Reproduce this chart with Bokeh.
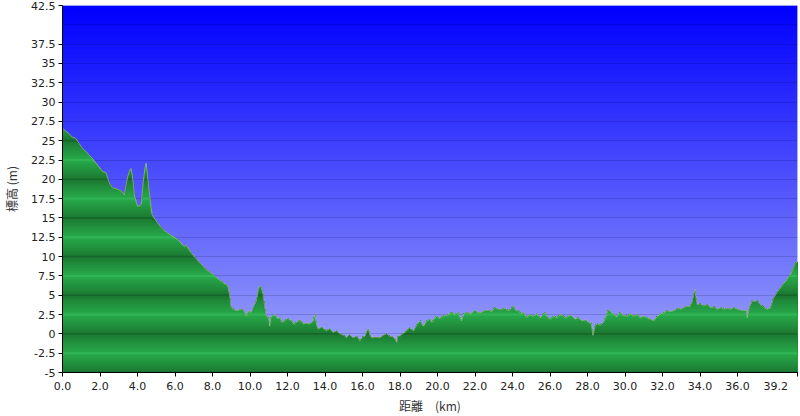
import numpy as np
from bokeh.plotting import figure
from bokeh.models import FixedTicker, PrintfTickFormatter, Range1d
from bokeh.embed import file_html
from bokeh.resources import INLINE

# ---------------- data ----------------
distance_km = [
    0.0, 0.15, 0.36, 0.5, 0.71, 0.9, 1.07, 1.25, 1.43, 1.6, 1.78, 1.95, 2.14, 2.32, 2.4, 2.5,
    2.67, 2.85, 3.03, 3.15, 3.3, 3.48, 3.6, 3.65, 3.72, 3.83, 4.01, 4.19, 4.31, 4.4, 4.46, 4.52,
    4.6, 4.78, 5.08, 5.35, 5.7, 5.9, 6.15, 6.5, 6.6, 6.86, 7.1, 7.31, 7.5, 7.66, 8.02, 8.25,
    8.47, 8.82, 8.91, 9.0, 9.27, 9.54, 9.7, 9.8, 9.9, 10.07, 10.34, 10.45, 10.52, 10.6, 10.7,
    10.84, 11.0, 11.05, 11.12, 11.32, 11.45, 11.59, 11.7, 11.85, 12.0, 12.21, 12.35, 12.48,
    12.65, 12.83, 13.0, 13.19, 13.35, 13.46, 13.55, 13.64, 13.8, 14.08, 14.25, 14.44, 14.6,
    14.8, 15.0, 15.15, 15.3, 15.5, 15.7, 15.86, 16.0, 16.13, 16.31, 16.4, 16.49, 16.7, 16.93,
    17.1, 17.29, 17.45, 17.65, 17.83, 17.9, 18.0, 18.2, 18.36, 18.5, 18.72, 18.9, 19.07, 19.25,
    19.43, 19.6, 19.7, 19.94, 20.1, 20.3, 20.5, 20.75, 20.9, 21.1, 21.28, 21.4, 21.55, 21.8,
    21.99, 22.15, 22.35, 22.5, 22.71, 22.9, 23.06, 23.25, 23.42, 23.6, 23.78, 23.9, 24.04,
    24.15, 24.31, 24.45, 24.58, 24.76, 24.9, 25.11, 25.3, 25.47, 25.6, 25.74, 25.85, 26.0,
    26.2, 26.36, 26.55, 26.72, 26.85, 26.99, 27.15, 27.34, 27.5, 27.7, 27.9, 28.05, 28.2,
    28.29, 28.41, 28.55, 28.68, 28.86, 29.0, 29.12, 29.25, 29.39, 29.55, 29.75, 29.9, 30.1,
    30.3, 30.46, 30.65, 30.82, 31.0, 31.17, 31.35, 31.53, 31.7, 31.89, 32.05, 32.24, 32.4,
    32.6, 32.8, 32.96, 33.15, 33.31, 33.45, 33.58, 33.66, 33.72, 33.78, 33.85, 34.0, 34.2,
    34.4, 34.56, 34.75, 34.92, 35.1, 35.27, 35.45, 35.63, 35.8, 35.99, 36.15, 36.34, 36.45,
    36.52, 36.6, 36.79, 36.9, 37.06, 37.2, 37.33, 37.45, 37.59, 37.77, 37.9, 38.04, 38.15,
    38.3, 38.45, 38.57, 38.7, 38.84, 38.95, 39.02, 39.1, 39.2,
]
elevation_m = [
    26.6, 26.3, 25.9, 25.5, 25.3, 24.6, 24.0, 23.6, 23.1, 22.7, 22.1, 21.6, 21.0, 20.9, 20.2, 19.5,
    18.9, 18.8, 18.6, 18.5, 18.0, 20.4, 21.2, 21.4, 20.6, 18.0, 16.5, 16.7, 19.7, 21.5, 22.1, 20.8,
    18.9, 15.4, 14.3, 13.5, 12.9, 12.6, 12.2, 11.3, 11.5, 10.5, 9.8, 9.2, 8.8, 8.3, 7.7, 7.2,
    6.8, 6.2, 5.1, 3.4, 3.0, 3.2, 2.9, 2.3, 2.9, 2.8, 4.3, 5.8, 6.2, 6.0, 5.1,
    2.5, 2.0, 1.0, 2.2, 2.5, 2.0, 2.1, 1.5, 1.7, 2.0, 1.7, 1.2, 1.5,
    1.8, 1.3, 1.4, 1.3, 1.6, 2.5, 1.2, 0.6, 0.9, 0.4, 0.7, 0.2, 0.4,
    0.0, -0.2, -0.5, -0.1, -0.5, -0.3, -0.9, -0.4, -0.3, 0.8, -0.2, -0.5, -0.4, -0.5,
    -0.2, 0.0, -0.3, -0.4, -1.1, -0.2, -0.3, 0.1, 0.4, 0.8, 0.4, 1.2, 1.7, 1.0,
    1.7, 1.9, 1.5, 2.3, 2.0, 2.3, 2.4, 2.8, 2.5, 2.8, 1.7, 2.6, 2.8, 2.6,
    3.1, 2.7, 2.8, 3.0, 3.1, 2.9, 3.4, 3.2, 3.2, 3.3, 3.0, 3.2, 3.6,
    3.1, 3.0, 2.6, 2.8, 2.1, 2.5, 2.3, 2.6, 2.1, 2.4, 2.8, 2.2, 1.9,
    2.3, 2.1, 2.5, 2.3, 2.0, 2.3, 2.4, 1.9, 2.1, 1.7, 1.8, 1.5, 1.3,
    -0.2, 1.1, 1.3, 1.1, 1.5, 2.4, 3.2, 2.8, 2.6, 2.2, 2.8, 2.4, 2.3,
    2.6, 2.3, 2.5, 2.1, 2.3, 2.1, 1.9, 1.7, 2.2, 2.6, 2.7, 3.0, 2.9,
    3.0, 3.3, 3.2, 3.4, 3.6, 3.5, 4.1, 5.0, 5.8, 4.8, 3.8, 3.9, 3.6,
    3.8, 3.4, 3.5, 3.2, 3.4, 3.2, 3.3, 3.2, 3.4, 3.2, 3.1, 3.0, 3.1,
    2.1, 3.2, 4.3, 4.2, 4.3, 3.8, 3.6, 3.3, 3.2, 3.4, 4.5, 5.1, 5.5,
    6.0, 6.5, 6.8, 7.3, 7.7, 8.4, 8.8, 9.2, 9.3,
]
x_ticks = [0.0, 2.0, 4.0, 6.0, 8.0, 10.0, 12.0, 14.0, 16.0, 18.0, 20.0, 22.0, 24.0,
           26.0, 28.0, 30.0, 32.0, 34.0, 36.0, 39.2]
y_ticks = [-5, -2.5, 0, 2.5, 5, 7.5, 10, 12.5, 15, 17.5, 20, 22.5, 25, 27.5, 30,
           32.5, 35, 37.5, 42.5]
grid_levels = [-5, -2.5, 0, 2.5, 5, 7.5, 10, 12.5, 15, 17.5, 20, 22.5, 25, 27.5, 30,
               32.5, 35, 37.5, 40, 42.5]
x_min, x_max = 0.0, 39.2
y_min, y_max = -5.0, 42.5
x_label = "距離　(km)"
y_label = "標高 (m)"

# ---------------- figure ----------------
p = figure(width=798, height=416, output_backend="svg", toolbar_location=None,
           x_range=Range1d(x_min, x_max), y_range=Range1d(y_min, y_max),
           min_border_left=62, min_border_right=1, min_border_top=5, min_border_bottom=44,
           border_fill_color="white", outline_line_color="#cfdbe6")

# sky gradient background
n = 240
t = np.linspace(0, 1, n)[:, None]  # 0 = bottom, 1 = top
bottom = np.array([165, 172, 250])
topc = np.array([0, 0, 255])
rgb = bottom + (topc - bottom) * t
img = np.zeros((n, 1), dtype=np.uint32)
view = img.view(dtype=np.uint8).reshape((n, 1, 4))
view[:, 0, 0] = rgb[:, 0]
view[:, 0, 1] = rgb[:, 1]
view[:, 0, 2] = rgb[:, 2]
view[:, 0, 3] = 255
p.image_rgba(image=[img], x=x_min, y=y_min, dw=x_max - x_min, dh=y_max - y_min, level="image")

# grid
p.xgrid.visible = False
p.ygrid.ticker = FixedTicker(ticks=grid_levels)
p.ygrid.grid_line_color = "#000040"
p.ygrid.grid_line_alpha = 0.16

# banded green area (painter's order, top slice first)
dist = np.array(distance_km)
elev = np.array(elevation_m)
dark = np.array([26, 118, 48])
light = np.array([40, 170, 75])
step = 0.25
centers = []
c = y_min
while c - step / 2 < elev.max():
    centers.append(c)
    c += step
for c in reversed(centers):
    hi = c + step / 2
    phase = (c % 5.0) / 5.0
    d = 1 - abs(1 - 2 * phase)
    col = dark + (light - dark) * (d ** 0.9)
    if abs(d - 1) < 1e-6:
        col = np.array([48, 182, 86])
    elif abs(d) < 1e-6:
        col = np.array([22, 104, 42])
    color = "#%02x%02x%02x" % tuple(int(round(v)) for v in col)
    p.varea(x=dist, y1=np.full_like(elev, y_min), y2=np.minimum(elev, hi),
            fill_color=color, fill_alpha=1.0)

p.line(dist, elev, line_color="#cdbf9f", line_alpha=0.55, line_width=1)

# axes
for ax in (p.xaxis[0], p.yaxis[0]):
    ax.axis_line_color = "black"
    ax.axis_line_width = 1
    ax.major_tick_line_color = "black"
    ax.major_tick_out = 4
    ax.major_tick_in = 0
    ax.minor_tick_line_color = None
    ax.major_label_text_font = "DejaVu Sans"
    ax.major_label_text_font_size = "11px"
    ax.major_label_text_color = "#222222"
    ax.axis_label_text_font = "Noto Sans CJK JP"
    ax.axis_label_text_font_size = "12px"
    ax.axis_label_text_font_style = "normal"
    ax.axis_label_text_color = "#333333"

p.xaxis.ticker = FixedTicker(ticks=x_ticks)
p.xaxis.formatter = PrintfTickFormatter(format="%.1f")
# last label sits left of its tick, as in the reference
p.xaxis.major_label_overrides = {x_ticks[-1]: "%.1f" % x_ticks[-1] + "\u00a0" * 3}
p.xaxis.major_label_standoff = 3
p.xaxis.axis_label_standoff = 1
p.xaxis.axis_label = x_label

p.yaxis.ticker = FixedTicker(ticks=y_ticks)
p.yaxis.formatter = PrintfTickFormatter(format="%g")
p.yaxis.major_label_standoff = 3
p.yaxis.axis_label_standoff = 8
p.yaxis.axis_label = y_label

open("out.html", "w").write(file_html(p, INLINE))
